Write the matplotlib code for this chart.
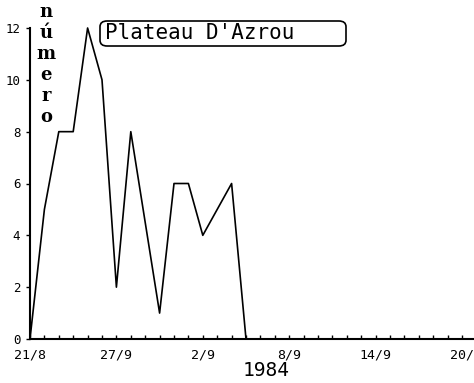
import matplotlib
matplotlib.use('Agg')
import matplotlib.pyplot as plt
from matplotlib.patches import FancyBboxPatch

# days counted from 21/8/1984
days = [0, 1, 2, 3, 4, 5, 6, 7, 9, 10, 11, 12, 14, 15]
numero = [0, 5, 8, 8, 12, 10, 2, 8, 1, 6, 6, 4, 6, 0]

xtick_pos = [0, 6, 12, 18, 24, 30]
xtick_labels = ["21/8", "27/9", "2/9", "8/9", "14/9", "20/"]
ytick_pos = [0, 2, 4, 6, 8, 10, 12]

mono = "DejaVu Sans Mono"

fig = plt.figure(figsize=(4.74, 3.83), dpi=100)
W, H = 474, 383
ax = fig.add_axes([30 / W, (H - 339) / H, 444 / W, 311 / H])

ax.plot(days, numero, color='black', lw=1.2, clip_on=False)

ax.set_xlim(0, 444 / 14.4)
ax.set_ylim(0, 12)
for s in ['top', 'right']:
    ax.spines[s].set_visible(False)
ax.spines['left'].set_linewidth(1.5)
ax.spines['bottom'].set_linewidth(1.5)

# daily minor ticks pointing up from the baseline
ax.set_xticks(range(0, 31), minor=True)
ax.set_xticks(xtick_pos)
ax.set_xticklabels(xtick_labels, family=mono, fontsize=9.5)
ax.tick_params(axis='x', which='both', direction='in', length=3, width=1, pad=7)
ax.set_yticks(ytick_pos)
ax.set_yticklabels([str(v) for v in ytick_pos], family=mono, fontsize=9)
ax.tick_params(axis='y', direction='out', length=3, width=1, pad=4)

# stacked y label
for i, ch in enumerate("número"):
    fig.text(46 / W, 1 - (12 + i * 21) / H, ch, family='DejaVu Serif',
             fontweight='bold', fontsize=13, ha='center', va='center')

# title box
box = FancyBboxPatch((100 / W, 1 - 46 / H), 246 / W, 25 / H,
                     boxstyle="round,pad=0,rounding_size=0.015",
                     transform=fig.transFigure, fill=False, ec='black', lw=1.2)
fig.patches.append(box)
fig.text(105 / W, 1 - 33 / H, "Plateau D'Azrou", family=mono, fontsize=15,
         ha='left', va='center')

fig.text(266 / W, 1 - 370 / H, "1984", family=mono, fontsize=14,
         ha='center', va='center')

plt.savefig("out.png", dpi=100)
